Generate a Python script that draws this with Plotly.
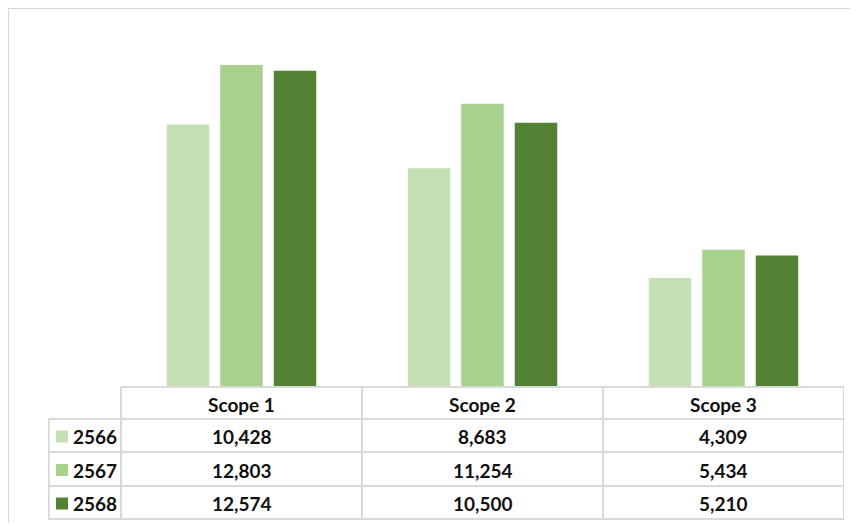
import plotly.graph_objects as go

categories = ["Scope 1", "Scope 2", "Scope 3"]
years = ["2566", "2567", "2568"]
values_2566 = [10428, 8683, 4309]
values_2567 = [12803, 11254, 5434]
values_2568 = [12574, 10500, 5210]
colors = ["#C5E0B4", "#A9D18E", "#548235"]

series = [values_2566, values_2567, values_2568]

OFF = 8  # page offset of the figure
W, H = 850, 518
L = 48 - OFF
T = 35 - OFF
plot_right = 844 - OFF
plot_bottom = 386 - OFF
R = W - plot_right
B = H - plot_bottom
plot_h = H - T - B
x_left = -0.5 - 73 / 241


def py(p):
    # p is a page pixel (reference coordinates)
    return (plot_bottom - (p - OFF)) / plot_h


fig = go.Figure()
for yr, vals, col in zip(years, series, colors):
    fig.add_trace(go.Bar(x=list(range(len(categories))), y=vals, name=yr,
                         marker=dict(color=col, line=dict(width=0)),
                         showlegend=False, hoverinfo="skip"))

grid = "#D9D9D9"
shapes = []
annotations = []
font_num = dict(family="Lato, Carlito, sans-serif", size=19, color="#111111", weight="bold")
font_hdr = dict(family="Lato, Carlito, sans-serif", size=19, color="#111111", weight="bold")

row_lines = [387, 419, 452, 486, 519]
shapes.append(dict(type="line", xref="x", yref="paper", x0=-0.5, x1=2.5,
                   y0=py(row_lines[0]), y1=py(row_lines[0]), line=dict(color=grid, width=2)))
for p in row_lines[1:]:
    shapes.append(dict(type="line", xref="x", yref="paper", x0=x_left, x1=2.5,
                       y0=py(p), y1=py(p), line=dict(color=grid, width=2)))
for xv in [-0.5, 0.5, 1.5, 2.5]:
    shapes.append(dict(type="line", xref="x", yref="paper", x0=xv, x1=xv,
                       y0=py(row_lines[0]), y1=py(row_lines[-1]), line=dict(color=grid, width=2)))
shapes.append(dict(type="line", xref="x", yref="paper", x0=x_left + 0.003, x1=x_left + 0.003,
                   y0=py(row_lines[1]), y1=py(row_lines[-1]), line=dict(color=grid, width=2)))

hdr_c = (row_lines[0] + row_lines[1]) / 2 + 1
for i, c in enumerate(categories):
    annotations.append(dict(x=i, y=py(hdr_c), xref="x", yref="paper", text=c,
                            showarrow=False, xanchor="center", yanchor="middle", font=font_hdr))

for r, (yr, vals, col) in enumerate(zip(years, series, colors)):
    cy = (row_lines[r + 1] + row_lines[r + 2]) / 2 + 1
    sq0 = x_left + 8 / 241
    shapes.append(dict(type="rect", xref="x", yref="paper", x0=sq0, x1=sq0 + 12 / 241,
                       y0=py(cy - 6), y1=py(cy + 6), fillcolor=col, line=dict(width=0)))
    annotations.append(dict(x=x_left + 23 / 241, y=py(cy), xref="x", yref="paper", text=yr,
                            showarrow=False, xanchor="left", yanchor="middle", font=font_num))
    for i, v in enumerate(vals):
        annotations.append(dict(x=i, y=py(cy), xref="x", yref="paper", text=f"{v:,}",
                                showarrow=False, xanchor="center", yanchor="middle", font=font_num))

# chart border (left and top)
bx = (8 - 48) / (plot_right - L)
shapes.append(dict(type="line", xref="paper", yref="paper", x0=bx, x1=bx,
                   y0=py(8), y1=py(523), line=dict(color=grid, width=2)))
shapes.append(dict(type="line", xref="paper", yref="paper", x0=bx, x1=1.2,
                   y0=py(8), y1=py(8), line=dict(color=grid, width=2)))

fig.update_layout(
    width=W, height=H,
    margin=dict(l=L, r=R, t=T, b=B),
    paper_bgcolor="white", plot_bgcolor="white",
    barmode="group", bargap=0.334, bargroupgap=0.206,
    xaxis=dict(range=[x_left, 2.5], showticklabels=False, showgrid=False,
               zeroline=False, showline=False, fixedrange=True),
    yaxis=dict(range=[0, 14000], showticklabels=False, showgrid=False,
               zeroline=False, showline=False, fixedrange=True),
    shapes=shapes, annotations=annotations,
)

fig.write_html("out.html")
